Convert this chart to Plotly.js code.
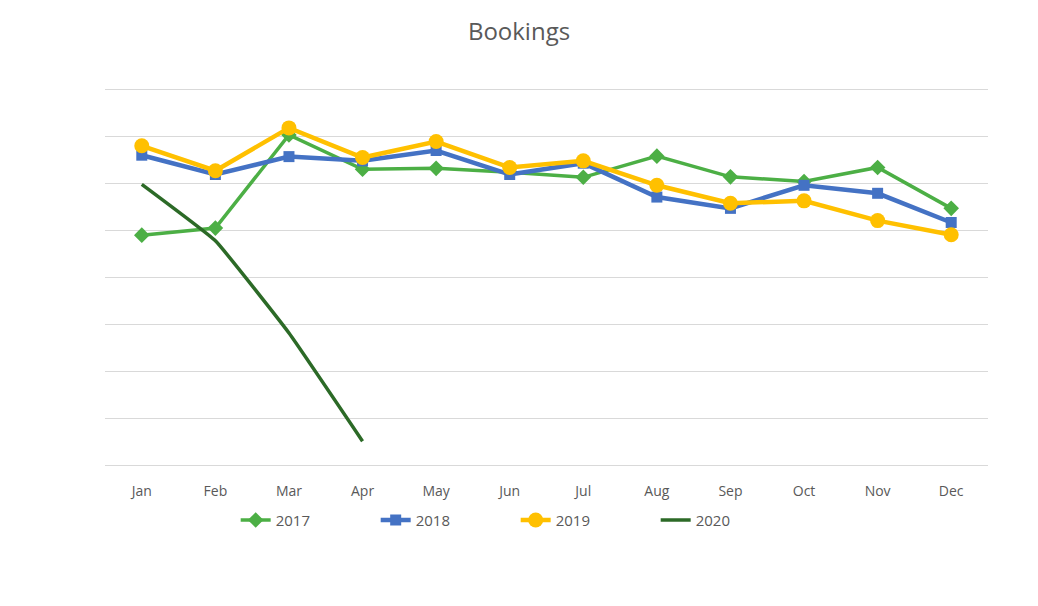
<!DOCTYPE html>
<html>
<head>
<meta charset="utf-8">
<script src="https://cdn.plot.ly/plotly-3.0.1.min.js"></script>
<style>html,body{margin:0;padding:0;background:#fff;}#chart{width:1038px;height:606px;}</style>
</head>
<body>
<div id="chart"></div>
<script>
const months = ["Jan","Feb","Mar","Apr","May","Jun","Jul","Aug","Sep","Oct","Nov","Dec"];
const y2017 = [4.90, 5.05, 7.03, 6.30, 6.32, 6.24, 6.13, 6.58, 6.14, 6.04, 6.34, 5.47];
const y2018 = [6.60, 6.19, 6.57, 6.48, 6.70, 6.19, 6.43, 5.71, 5.47, 5.96, 5.79, 5.17];
const y2019 = [6.80, 6.27, 7.18, 6.55, 6.89, 6.34, 6.48, 5.96, 5.58, 5.63, 5.21, 4.91];
const y2020 = [5.98, 4.78, 2.82, 0.52];
const seriesNames = ["2017","2018","2019","2020"];

const traces = [
  {x: months, y: y2017, name: seriesNames[0], type: "scatter", mode: "lines+markers",
   line: {color: "#4caf45", width: 3.5}, marker: {symbol: "diamond", size: 12, color: "#4caf45"}},
  {x: months, y: y2018, name: seriesNames[1], type: "scatter", mode: "lines+markers",
   line: {color: "#4472c4", width: 4.5}, marker: {symbol: "square", size: 11, color: "#4472c4"}},
  {x: months, y: y2019, name: seriesNames[2], type: "scatter", mode: "lines+markers",
   line: {color: "#ffc000", width: 4.5}, marker: {symbol: "circle", size: 15, color: "#ffc000"}},
  {x: months.slice(0, y2020.length), y: y2020, name: seriesNames[3], type: "scatter", mode: "lines",
   line: {color: "#2c6a27", width: 3.5, shape: "spline", smoothing: 0.3}}
];

const layout = {
  width: 1038, height: 606,
  paper_bgcolor: "#ffffff", plot_bgcolor: "#ffffff",
  margin: {l: 105, r: 50, t: 87, b: 138},
  title: {text: "Bookings", x: 0.5, xanchor: "center", y: 1, yanchor: "top", pad: {t: 23},
          font: {family: "Open Sans, Liberation Sans, sans-serif", size: 24, color: "#595959"}},
  font: {family: "Open Sans, Liberation Sans, sans-serif", color: "#595959"},
  xaxis: {type: "category", categoryorder: "array", categoryarray: months,
          range: [-0.5, 11.5], showgrid: false, zeroline: false, showline: false,
          ticks: "outside", ticklen: 10, tickcolor: "rgba(0,0,0,0)",
          tickfont: {size: 14, color: "#595959"}, fixedrange: true},
  yaxis: {range: [-0.05, 8.05], dtick: 1, tick0: 0, showticklabels: false, ticks: "",
          showgrid: true, gridcolor: "#d9d9d9", gridwidth: 1.5, zeroline: false, showline: false,
          fixedrange: true},
  showlegend: true,
  legend: {orientation: "h", x: 0.148, xanchor: "left", y: -0.137, yanchor: "middle",
           bgcolor: "rgba(0,0,0,0)",
           entrywidth: 95, entrywidthmode: "pixels",
           font: {size: 15, color: "#595959"}, itemwidth: 30, traceorder: "normal"}
};

Plotly.newPlot("chart", traces, layout, {displayModeBar: false, staticPlot: true});
</script>
</body>
</html>
